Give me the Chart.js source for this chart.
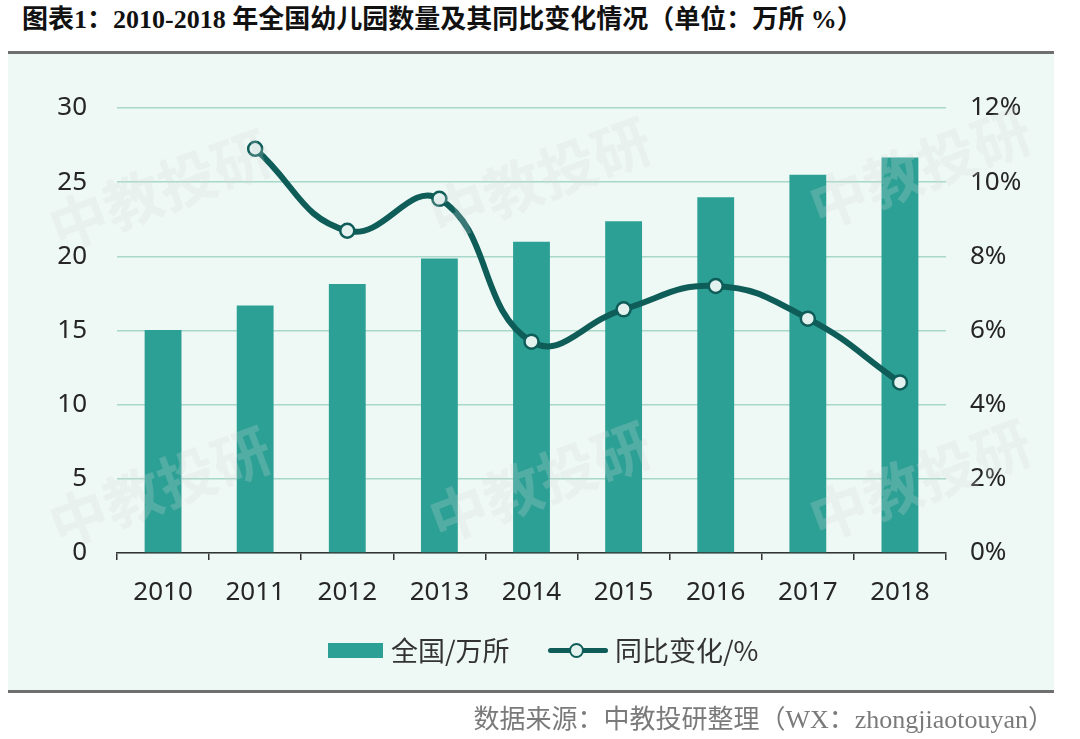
<!DOCTYPE html>
<html>
<head>
<meta charset="utf-8">
<script src="https://cdn.jsdelivr.net/npm/chart.js@4/dist/chart.umd.min.js"></script>
<style>
  body { margin: 0; background: #fff; width: 1080px; height: 739px; position: relative; overflow: hidden; }
  #title { position: absolute; left: 22px; top: 4px; font: bold 26px "Liberation Serif", "Noto Sans CJK SC", serif; color: #111; line-height: 32px; white-space: nowrap; }
  .rule { position: absolute; left: 8px; width: 1046px; height: 3px; background: #6f6f6f; }
  #panel { position: absolute; left: 8px; top: 54px; width: 1046px; height: 636px; background: #eef8f4; }
  #source { position: absolute; right: 26px; top: 698px; font: 26px "Liberation Serif", "Noto Sans CJK SC", serif; color: #7a7a7a; white-space: nowrap; }
  #chart-wrap { position: absolute; left: 0; top: 0; width: 1080px; height: 739px; }
  .legend { position: absolute; top: 633px; font: 27px "Noto Sans CJK SC", sans-serif; color: #333; line-height: 34px; }
  .swatch-bar { position: absolute; width: 55px; height: 15px; background: #2da095; }
  .swatch-line { position: absolute; width: 60px; height: 5px; background: #0e5d59; border-radius: 3px; }
  .swatch-dot { position: absolute; width: 11px; height: 11px; border-radius: 50%; background: #e3f1ef; border: 2.5px solid #0e5d59; }
</style>
</head>
<body>
<div id="title">图表1：2010-2018 年全国幼儿园数量及其同比变化情况（单位：万所 %）</div>
<div class="rule" style="top:51px"></div>
<div id="panel"></div>
<div class="rule" style="top:690px"></div>
<div id="chart-wrap"><canvas id="kg-chart" width="1080" height="739"></canvas></div>
<div class="swatch-bar" style="left:328px; top:643px"></div>
<div class="legend" style="left:391px">全国/万所</div>
<div class="swatch-line" style="left:548px; top:648px"></div>
<div class="swatch-dot" style="left:569px; top:643px"></div>
<div class="legend" style="left:615px">同比变化/%</div>
<div id="source">数据来源：中教投研整理（WX：zhongjiaotouyan）</div>

<script>
const years = ['2010', '2011', '2012', '2013', '2014', '2015', '2016', '2017', '2018'];
const schools = [15.04, 16.68, 18.13, 19.86, 20.99, 22.37, 23.98, 25.50, 26.67];
const growth = [null, 10.9, 8.69, 9.55, 5.70, 6.57, 7.20, 6.32, 4.60];
const leftTicks = [0, 5, 10, 15, 20, 25, 30];
const rightTicks = [0, 2, 4, 6, 8, 10, 12];

const ctx = document.getElementById('kg-chart').getContext('2d');

// faint "中教投研" watermarks over the plot
const watermark = {
    id: 'watermark',
    afterDraw(chart) {
        const c = chart.ctx;
        const spots = [[160, 190], [540, 178], [920, 168], [160, 487], [540, 482], [920, 480]];
        c.save();
        c.font = 'bold 58px "Noto Sans CJK SC", sans-serif';
        c.fillStyle = 'rgba(215, 218, 217, 0.22)';
        c.textAlign = 'center';
        c.textBaseline = 'middle';
        spots.forEach(p => {
            c.save();
            c.translate(p[0], p[1]);
            c.rotate(-0.36);
            c.fillText('中教投研', 0, 0);
            c.restore();
        });
        c.restore();
    }
};

new Chart(ctx, {
    type: 'bar',
    data: {
        labels: years,
        datasets: [{
            type: 'line',
            label: '同比变化/%',
            data: growth,
            yAxisID: 'y1',
            borderColor: '#0e5d59',
            borderWidth: 6,
            tension: 0.45,
            pointRadius: 7,
            pointBorderWidth: 2.5,
            pointBackgroundColor: '#e3f1ef',
            pointBorderColor: '#0e5d59',
            order: 0
        }, {
            label: '全国/万所',
            data: schools,
            yAxisID: 'y',
            backgroundColor: '#2da095',
            categoryPercentage: 1,
            barPercentage: 0.4,
            order: 1
        }]
    },
    options: {
        responsive: false,
        animation: false,
        layout: { padding: { left: 8, right: 27, top: 108, bottom: 116 } },
        plugins: { legend: { display: false }, tooltip: { enabled: false } },
        scales: {
            x: {
                grid: { offset: true, drawOnChartArea: false, drawTicks: true, tickLength: 7, color: '#333', lineWidth: 1.5 },
                border: { color: '#333', width: 1.5 },
                ticks: { padding: 17, color: '#262626', font: { family: 'Noto Sans', size: 26 } },
                afterFit(scale) { scale.height = 70; }
            },
            y: {
                position: 'left',
                min: 0,
                max: 30,
                afterBuildTicks(scale) { scale.ticks = leftTicks.map(v => ({ value: v })); },
                afterFit(scale) { scale.width = 109; },
                grid: { color: '#a7d8ca', lineWidth: 1.5, drawTicks: false },
                border: { display: false },
                ticks: { padding: 30, color: '#262626', font: { family: 'Noto Sans', size: 26 } }
            },
            y1: {
                position: 'right',
                min: 0,
                max: 12,
                afterBuildTicks(scale) { scale.ticks = rightTicks.map(v => ({ value: v })); },
                afterFit(scale) { scale.width = 107; },
                grid: { drawOnChartArea: false, drawTicks: false },
                border: { display: false },
                ticks: {
                    padding: 24,
                    color: '#262626',
                    font: { family: 'Noto Sans', size: 26 },
                    callback: v => v + '%'
                }
            }
        }
    },
    plugins: [watermark]
});
</script>
</body>
</html>
